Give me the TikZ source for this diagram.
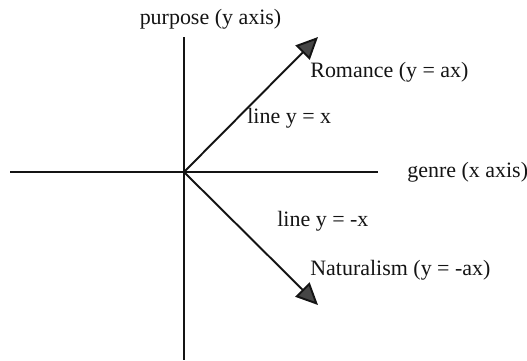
\documentclass[tikz,border=0pt]{standalone}
\usepackage{fontspec}
\setmainfont{Liberation Serif}
\usepackage{tikz}
\usetikzlibrary{arrows.meta, positioning}
\definecolor{DG}{RGB}{20,20,20}
\definecolor{HG}{RGB}{70,70,70}

\begin{document}
\begin{tikzpicture}[
  x=0.02cm, y=-0.02cm,
  axis/.style={draw=DG, line width=1.1pt},
  vec/.style={draw=DG, line width=1.1pt,
              -{Triangle[length=0.44cm, width=0.4cm, fill=HG]}},
  lbl/.style={font=\fontsize{12.5}{14}\selectfont, text=DG, inner sep=0pt}
]
\useasboundingbox (0,0) rectangle (527,360);

% Axes
\coordinate (o) at (184,172);
\coordinate (xl) at (10,172);
\coordinate (xr) at (378,172);
\coordinate (yt) at (184,37);
\coordinate (yb) at (184,360);
\draw[axis] (xl) -- (xr);
\draw[axis] (yt) -- (yb);

% Axis labels
\node[lbl] (ylab) at (210.5,19) {purpose (y axis)};
\node[lbl, anchor=west] (xlab) at (407,172) {genre (x axis)};

% Vectors
\coordinate (rtip) at (318,37);
\coordinate (ntip) at (318,305);
\draw[vec] (o) -- (rtip);
\draw[vec] (o) -- (ntip);

% Vector labels
\node[lbl, anchor=west] (rom) at (310,72) {Romance (y = ax)};
\node[lbl, anchor=west] (lpos) at (247,118) {line y = x};
\node[lbl, anchor=west] (lneg) at (277,221) {line y = -x};
\node[lbl, anchor=west] (nat) at (310,270) {Naturalism (y = -ax)};
\end{tikzpicture}
\end{document}
